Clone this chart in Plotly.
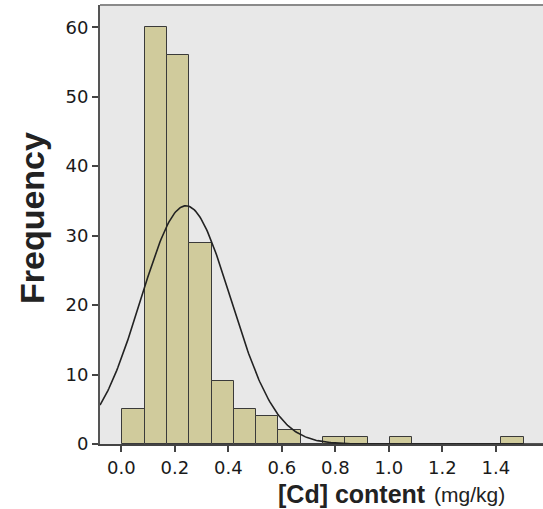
import numpy as np
import plotly.graph_objects as go

# ---- data ----
bin_start = 0.004          # left edge of first bin (mg/kg)
bin_width = 0.0833         # histogram bin width (mg/kg)
counts = [5, 60, 56, 29, 9, 5, 4, 2, 0, 1, 1, 0, 1, 0, 0, 0, 0, 1]
x_ticks = [0.0, 0.2, 0.4, 0.6, 0.8, 1.0, 1.2, 1.4]
x_tick_labels = ["0.0", "0.2", "0.4", "0.6", "0.8", "1.0", "1.2", "1.4"]
y_ticks = [0, 10, 20, 30, 40, 50, 60]
# fitted normal curve parameters (SPSS-style overlay)
fit_mean = 0.241
fit_sd = 0.1686
n_total = sum(counts)

x_range = [-0.08, 1.576]
y_range = [0, 63.2]

centers = [bin_start + bin_width * (i + 0.5) for i in range(len(counts))]

fig = go.Figure()
fig.add_trace(go.Bar(
    x=centers, y=counts, width=bin_width,
    marker=dict(color="#D0CB9C", line=dict(color="#3a3a3a", width=1)),
    showlegend=False, hoverinfo="skip",
))

xc = np.linspace(x_range[0], x_range[1], 400)
yc = n_total * bin_width / (fit_sd * np.sqrt(2 * np.pi)) * np.exp(-0.5 * ((xc - fit_mean) / fit_sd) ** 2)
fig.add_trace(go.Scatter(
    x=xc, y=yc, mode="lines", line=dict(color="#222222", width=1.6),
    showlegend=False, hoverinfo="skip",
))

tick_font = dict(family="DejaVu Sans", size=18, color="#1a1a1a")

fig.update_layout(
    width=543, height=509,
    margin=dict(l=100, r=0, t=5, b=65),
    paper_bgcolor="white",
    plot_bgcolor="#E8E8E8",
    bargap=0,
    xaxis=dict(
        range=x_range, tickvals=x_ticks, ticktext=x_tick_labels,
        showgrid=False, zeroline=False,
        showline=True, linecolor="#444444", linewidth=2,
        ticks="outside", ticklen=6, tickwidth=1.5, tickcolor="#444444",
        tickfont=tick_font,
    ),
    yaxis=dict(
        range=y_range, tickvals=y_ticks,
        showgrid=False, zeroline=False,
        showline=True, linecolor="#555555", linewidth=2,
        ticks="outside", ticklen=6, tickwidth=1.5, tickcolor="#444444",
        tickfont=tick_font,
    ),
    shapes=[
        dict(type="line", xref="paper", yref="paper", x0=0, x1=1, y0=1, y1=1,
             line=dict(color="#8a8a8a", width=2)),
    ],
    annotations=[
        dict(text="<b>Frequency</b>", xref="paper", yref="paper",
             x=(32 - 100) / 443, y=(444 - 218) / 439, xanchor="center", yanchor="middle",
             textangle=-90, showarrow=False,
             font=dict(family="Liberation Sans", size=34, color="#222222")),
        dict(text="<b>[Cd] content</b>", xref="paper", yref="paper",
             x=(428 - 100) / 443, y=(444 - 494) / 439, xanchor="right", yanchor="middle",
             showarrow=False,
             font=dict(family="Liberation Sans", size=25, color="#222222")),
        dict(text="(mg/kg)", xref="paper", yref="paper",
             x=(432 - 100) / 443, y=(444 - 494) / 439, xanchor="left", yanchor="middle",
             showarrow=False,
             font=dict(family="Liberation Sans", size=21, color="#222222")),
    ],
)

fig.write_html("out.html", config={"displayModeBar": False},
               post_script="document.body.style.margin='0px';document.body.style.overflow='hidden';")
